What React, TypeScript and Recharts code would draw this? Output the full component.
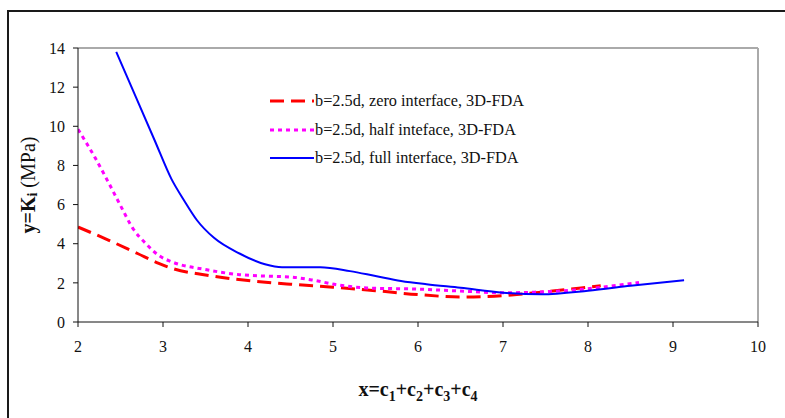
import { LineChart, Line, XAxis, YAxis, ReferenceLine } from "recharts";

// x values (c1+c2+c3+c4) and Ki values (MPa)
const zeroX = [2.0, 2.35, 2.7, 2.95, 3.1, 3.5, 4.0, 4.5, 5.0, 5.5, 6.0, 6.5, 7.1, 7.5, 8.0, 8.15];
const zeroY = [4.85, 4.2, 3.5, 3.0, 2.75, 2.4, 2.12, 1.93, 1.78, 1.6, 1.4, 1.28, 1.38, 1.55, 1.78, 1.85];

const halfX = [2.0, 2.2, 2.35, 2.5, 2.65, 2.8, 2.95, 3.1, 3.5, 3.9, 4.25, 4.5, 4.75, 5.05, 5.4, 6.0, 6.6, 7.0, 7.4, 7.8, 8.3, 8.6];
const halfY = [9.85, 8.4, 7.2, 5.95, 4.75, 4.0, 3.4, 3.08, 2.68, 2.42, 2.34, 2.3, 2.15, 1.9, 1.74, 1.68, 1.56, 1.49, 1.53, 1.62, 1.85, 2.02];

const fullX = [2.45, 2.68, 2.9, 3.1, 3.25, 3.4, 3.6, 3.9, 4.2, 4.4, 4.85, 5.2, 5.5, 5.8, 6.1, 6.5, 7.0, 7.45, 8.0, 8.5, 9.13];
const fullY = [13.8, 11.5, 9.3, 7.3, 6.2, 5.2, 4.3, 3.5, 2.95, 2.8, 2.8, 2.6, 2.35, 2.1, 1.93, 1.75, 1.5, 1.42, 1.6, 1.85, 2.14];

const xTicks = [2, 3, 4, 5, 6, 7, 8, 9, 10];
const yTicks = [0, 2, 4, 6, 8, 10, 12, 14];

const seriesNames = [
  "b=2.5d, zero interface, 3D-FDA",
  "b=2.5d, half inteface, 3D-FDA",
  "b=2.5d, full interface, 3D-FDA",
];

const toPoints = (xs: number[], ys: number[]) => xs.map((x, i) => ({ x, y: ys[i] }));

const zeroData = toPoints(zeroX, zeroY);
const halfData = toPoints(halfX, halfY);
const fullData = toPoints(fullX, fullY);

const FONT = '"Liberation Serif", "Times New Roman", serif';

const styles = [
  { stroke: "#ff0000", width: 3, dash: "14 7" },
  { stroke: "#ff00ff", width: 3, dash: "4 4" },
  { stroke: "#0000ff", width: 2, dash: undefined },
];

// legend sits inside the plot, drawn as a plain overlay
function LegendBox() {
  return (
    <div style={{ position: "absolute", left: 270, top: 87, fontFamily: FONT, fontSize: 16.3, color: "#111" }}>
      {seriesNames.map((name, i) => (
        <div key={name} style={{ display: "flex", alignItems: "center", height: 28.5 }}>
          <svg width={44} height={10} style={{ marginRight: 1 }}>
            <line
              x1={0}
              y1={5}
              x2={44}
              y2={5}
              stroke={styles[i].stroke}
              strokeWidth={styles[i].width}
              strokeDasharray={styles[i].dash}
            />
          </svg>
          <span style={{ whiteSpace: "nowrap" }}>{name}</span>
        </div>
      ))}
    </div>
  );
}

function YTitle(props: any) {
  const vb = props.viewBox;
  const cx = vb.x + 12;
  const cy = vb.y + vb.height / 2;
  return (
    <text
      x={cx}
      y={cy}
      transform={`rotate(-90, ${cx}, ${cy})`}
      textAnchor="middle"
      dominantBaseline="middle"
      fontFamily={FONT}
      fontSize={20}
      fill="#111"
    >
      <tspan fontWeight="bold">y=K</tspan>
      <tspan fontWeight="bold" fontSize={14} dy={4}>i</tspan>
      <tspan dy={-4}> (MPa)</tspan>
    </text>
  );
}

function XTitle(props: any) {
  const vb = props.viewBox;
  const cx = vb.x + vb.width / 2;
  const cy = vb.y + 74;
  return (
    <text x={cx} y={cy} textAnchor="middle" fontFamily={FONT} fontSize={20} fontWeight="bold" fill="#111">
      <tspan>x=c</tspan>
      <tspan fontSize={14} dy={5}>1</tspan>
      <tspan dy={-5}>+c</tspan>
      <tspan fontSize={14} dy={5}>2</tspan>
      <tspan dy={-5}>+c</tspan>
      <tspan fontSize={14} dy={5}>3</tspan>
      <tspan dy={-5}>+c</tspan>
      <tspan fontSize={14} dy={5}>4</tspan>
    </text>
  );
}

export default function App() {
  const tick = { fontFamily: FONT, fontSize: 16, fill: "#111" };
  return (
    <div style={{ position: "absolute", left: 0, top: 0, width: 785, height: 418, overflow: "hidden", background: "#fff" }}>
      <div
        style={{
          position: "absolute",
          left: 7,
          top: 10,
          width: 820,
          height: 440,
          borderLeft: "2px solid #1a1a1a",
          borderTop: "2px solid #1a1a1a",
        }}
      />
      <LineChart
        width={785}
        height={418}
        margin={{ top: 48, right: 27, left: 18, bottom: 66 }}
        style={{ position: "absolute", left: 0, top: 0 }}
      >
        <XAxis
          type="number"
          dataKey="x"
          domain={[2, 10]}
          ticks={xTicks}
          allowDataOverflow
          height={30}
          tick={tick}
          tickSize={5}
          tickMargin={14}
          stroke="#111"
          label={<XTitle />}
        />
        <YAxis
          type="number"
          dataKey="y"
          domain={[0, 14]}
          ticks={yTicks}
          allowDataOverflow
          width={60}
          tick={tick}
          tickSize={5}
          tickMargin={8}
          stroke="#111"
          label={<YTitle />}
        />
        <ReferenceLine y={14} stroke="#aaaaaa" strokeWidth={2} />
        <ReferenceLine x={10} stroke="#aaaaaa" strokeWidth={2} />
        <Line
          data={zeroData}
          dataKey="y"
          name={seriesNames[0]}
          type="monotone"
          stroke={styles[0].stroke}
          strokeWidth={styles[0].width}
          strokeDasharray={styles[0].dash}
          dot={false}
          isAnimationActive={false}
        />
        <Line
          data={halfData}
          dataKey="y"
          name={seriesNames[1]}
          type="monotone"
          stroke={styles[1].stroke}
          strokeWidth={styles[1].width}
          strokeDasharray={styles[1].dash}
          dot={false}
          isAnimationActive={false}
        />
        <Line
          data={fullData}
          dataKey="y"
          name={seriesNames[2]}
          type="monotone"
          stroke={styles[2].stroke}
          strokeWidth={styles[2].width}
          dot={false}
          isAnimationActive={false}
        />
      </LineChart>
      <LegendBox />
    </div>
  );
}
